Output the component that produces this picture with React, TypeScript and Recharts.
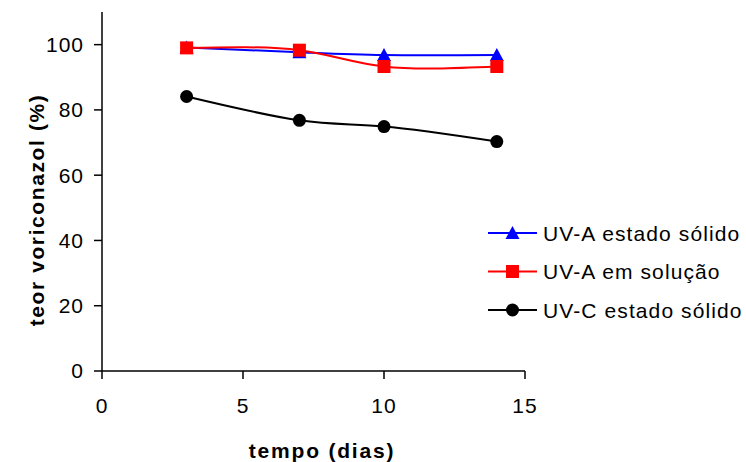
import { CartesianGrid, Label, Legend, Line, LineChart, XAxis, YAxis } from 'recharts';

const dias = [3, 7, 10, 14];
const uvaSolido = [99.1, 97.7, 96.8, 96.8];
const uvaSolucao = [99.0, 98.3, 93.3, 93.3];
const uvcSolido = [84.1, 76.8, 74.9, 70.3];
const xTicks = [0, 5, 10, 15];
const yTicks = [0, 20, 40, 60, 80, 100];

const seriesNames = ['UV-A estado sólido', 'UV-A em solução', 'UV-C estado sólido'];
const seriesColors = ['#0000ff', '#ff0000', '#000000'];

const data = dias.map((d, i) => ({
  dia: d,
  a: uvaSolido[i],
  b: uvaSolucao[i],
  c: uvcSolido[i],
}));

const FONT = '"Liberation Sans", Arial, sans-serif';

type Shape = 'triangle' | 'square' | 'circle';
const shapes: Shape[] = ['triangle', 'square', 'circle'];

function Marker({ cx, cy, shape, color }: { cx: number; cy: number; shape: Shape; color: string }) {
  if (shape === 'triangle') {
    return <path d={`M${cx},${cy - 7} L${cx + 7},${cy + 6} L${cx - 7},${cy + 6} Z`} fill={color} />;
  }
  if (shape === 'square') {
    return <rect x={cx - 6.5} y={cy - 6.5} width={13} height={13} fill={color} />;
  }
  return <circle cx={cx} cy={cy} r={6.5} fill={color} />;
}

const makeDot = (shape: Shape, color: string) => (props: any) => {
  const { cx, cy, key } = props;
  if (cx == null || cy == null) return <g key={key} />;
  return <Marker key={key} cx={cx} cy={cy} shape={shape} color={color} />;
};

function LegendBox() {
  return (
    <svg width={260} height={120} style={{ overflow: 'visible' }}>
      {seriesNames.map((name, i) => {
        const y = 13 + i * 38.5;
        return (
          <g key={name}>
            <line x1={0} x2={49} y1={y} y2={y} stroke={seriesColors[i]} strokeWidth={2} />
            <Marker cx={24.5} cy={y} shape={shapes[i]} color={seriesColors[i]} />
            <text x={55} y={y + 7.5} fontSize={21} letterSpacing={1.1} fontFamily={FONT} fill="#000">
              {name}
            </text>
          </g>
        );
      })}
    </svg>
  );
}

export default function App() {
  const tickStyle = { fontSize: 21, fill: '#000', fontFamily: FONT, letterSpacing: 1 };
  return (
    <div style={{ position: 'absolute', left: 0, top: 0, background: '#fff' }}>
      <LineChart width={746} height={462} data={data} margin={{ top: 12, right: 221, bottom: 0, left: 0 }}>
        <CartesianGrid stroke="none" />
        <XAxis
          dataKey="dia"
          type="number"
          domain={[0, 15]}
          ticks={xTicks}
          height={91}
          stroke="#000"
          strokeWidth={1.5}
          tickSize={8}
          tickMargin={19}
          tick={tickStyle}
          tickLine={{ stroke: '#000', strokeWidth: 1.5 }}
        >
          <Label
            content={() => (
              <text
                x={322}
                y={458}
                textAnchor="middle"
                fontSize={21}
                fontWeight="bold"
                letterSpacing={1.8}
                fontFamily={FONT}
                fill="#000"
              >
                tempo (dias)
              </text>
            )}
          />
        </XAxis>
        <YAxis
          type="number"
          domain={[0, 110]}
          ticks={yTicks}
          width={102}
          stroke="#000"
          strokeWidth={1.5}
          tickSize={8}
          tickMargin={10}
          tick={tickStyle}
          tickLine={{ stroke: '#000', strokeWidth: 1.5 }}
        >
          <Label
            content={() => (
              <text
                x={0}
                y={0}
                transform="translate(44,210) rotate(-90)"
                textAnchor="middle"
                fontSize={21}
                fontWeight="bold"
                letterSpacing={1.6}
                fontFamily={FONT}
                fill="#000"
              >
                teor voriconazol (%)
              </text>
            )}
          />
        </YAxis>
        <Legend
          layout="vertical"
          align="center"
          verticalAlign="middle"
          wrapperStyle={{ left: 488, top: 220, width: 260 }}
          content={() => <LegendBox />}
        />
        <Line
          type="natural"
          dataKey="a"
          name={seriesNames[0]}
          stroke={seriesColors[0]}
          strokeWidth={2}
          dot={makeDot('triangle', seriesColors[0])}
          activeDot={false}
          isAnimationActive={false}
        />
        <Line
          type="natural"
          dataKey="b"
          name={seriesNames[1]}
          stroke={seriesColors[1]}
          strokeWidth={2}
          dot={makeDot('square', seriesColors[1])}
          activeDot={false}
          isAnimationActive={false}
        />
        <Line
          type="natural"
          dataKey="c"
          name={seriesNames[2]}
          stroke={seriesColors[2]}
          strokeWidth={2}
          dot={makeDot('circle', seriesColors[2])}
          activeDot={false}
          isAnimationActive={false}
        />
      </LineChart>
    </div>
  );
}
